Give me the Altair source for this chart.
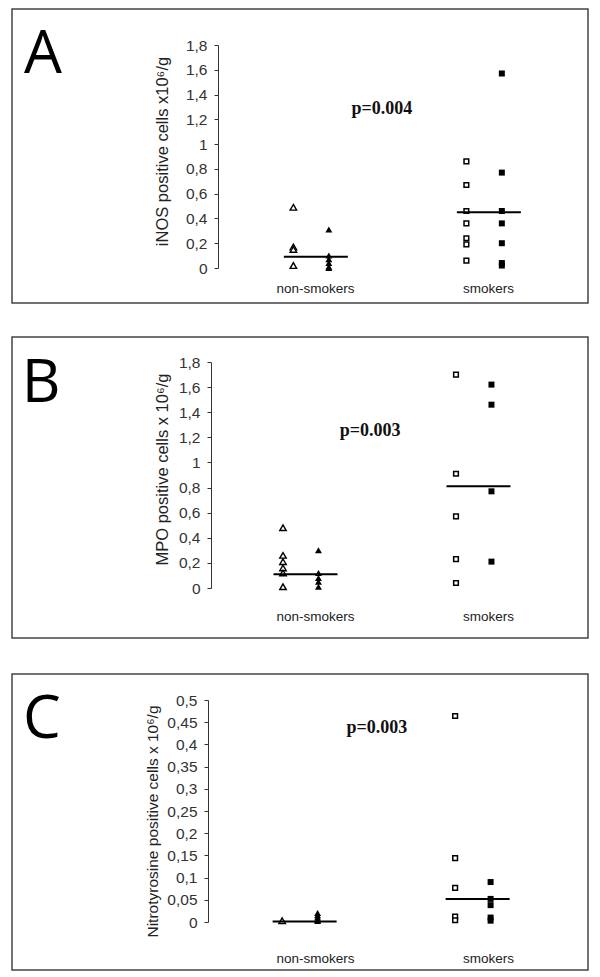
import altair as alt
import pandas as pd

# ---------------- data ----------------
groups = ["non-smokers", "smokers"]

# Panel A: iNOS positive cells x10^6/g
A_ns_open = [0.49, 0.17, 0.15, 0.02]
A_ns_filled = [0.31, 0.10, 0.07, 0.04, 0.01, 0.0]
A_s_open = [0.86, 0.67, 0.46, 0.36, 0.24, 0.19, 0.06]
A_s_filled = [1.57, 0.77, 0.46, 0.36, 0.20, 0.04, 0.02]
A_medians = [0.09, 0.45]
A_p = "p=0.004"

# Panel B: MPO positive cells x 10^6/g
B_ns_open = [0.48, 0.26, 0.21, 0.16, 0.12, 0.01]
B_ns_filled = [0.30, 0.12, 0.08, 0.05, 0.01]
B_s_open = [1.70, 0.91, 0.57, 0.23, 0.04]
B_s_filled = [1.62, 1.46, 0.77, 0.21]
B_medians = [0.11, 0.81]
B_p = "p=0.003"

# Panel C: Nitrotyrosine positive cells x 10^6/g
C_ns_open = [0.003]
C_ns_filled = [0.02, 0.015, 0.01, 0.005, 0.002]
C_s_open = [0.464, 0.144, 0.077, 0.012, 0.004]
C_s_filled = [0.09, 0.052, 0.038, 0.01, 0.003]
C_medians = [0.001, 0.052]
C_p = "p=0.003"

ticks_AB = [0, 0.2, 0.4, 0.6, 0.8, 1, 1.2, 1.4, 1.6, 1.8]
ticks_C = [0, 0.05, 0.1, 0.15, 0.2, 0.25, 0.3, 0.35, 0.4, 0.45, 0.5]

# ---------------- layout / style constants ----------------
PW = 360
XDOM = [0.4393, 2.5202]
OPEN_OFF, FILLED_OFF, HALF_LINE = -0.13, 0.075, 0.185
SANS = "Liberation Sans"
INK = "#222222"


def panel(letter, ns_open, ns_filled, s_open, s_filled, medians, ptext,
          ymax, yticks, title, axis_len, view_h, shift, axis_offset, title_x,
          title_y, xlab_pad, p_xy, frame, letter_xy, title_size):
    rows = []
    for vals, g, kind, off in [(ns_open, 0, "ns_open", OPEN_OFF),
                               (ns_filled, 0, "ns_filled", FILLED_OFF),
                               (s_open, 1, "s_open", OPEN_OFF),
                               (s_filled, 1, "s_filled", FILLED_OFF)]:
        for v in vals:
            rows.append({"v": v, "xp": g + 1 + shift + off, "kind": kind})
    df = pd.DataFrame(rows)
    med = pd.DataFrame({
        "v": medians,
        "x1": [g + 1 + shift - HALF_LINE for g in range(2)],
        "x2": [g + 1 + shift + HALF_LINE for g in range(2)],
    })
    pdf = pd.DataFrame({"t": [ptext], "xp": [p_xy[0]], "v": [p_xy[1]]})

    xscale = alt.Scale(domain=XDOM, nice=False, zero=False)
    yscale = alt.Scale(domain=[0, ymax], nice=False, zero=True,
                       range=[axis_len, 0])
    xaxis = alt.Axis(values=[1, 2],
                     labelExpr="datum.value == 1 ? 'non-smokers' : 'smokers'",
                     domain=False, ticks=False, tickSize=0, grid=False,
                     title=None, labelFont=SANS, labelFontSize=13.5,
                     labelColor=INK, labelPadding=xlab_pad,
                     labelFlush=False, labelOverlap=False)
    yaxis = alt.Axis(values=yticks, format="~g",
                     labelExpr="replace(datum.label, '.', ',')",
                     title=title, titleX=title_x, titleY=title_y,
                     titleAngle=270, titleAlign="center", titleBaseline="middle",
                     titleFont=SANS, titleFontSize=title_size,
                     titleFontWeight="normal",
                     titleColor=INK, labelFont=SANS, labelFontSize=15.5,
                     labelColor="#333333", tickSize=4, tickColor="#333333",
                     domainColor="#333333", grid=False, offset=axis_offset,
                     labelPadding=7, labelFlush=False, labelOverlap=False)

    base = alt.Chart(df).encode(
        x=alt.X("xp:Q", scale=xscale, axis=xaxis),
        y=alt.Y("v:Q", scale=yscale, axis=yaxis),
    )
    ns_o = base.transform_filter("datum.kind == 'ns_open'").mark_point(
        shape="triangle-up", size=42, filled=True, fill="white",
        stroke="black", strokeWidth=1.4, opacity=1)
    ns_f = base.transform_filter("datum.kind == 'ns_filled'").mark_point(
        shape="triangle-up", size=48, filled=True, color="black", opacity=1)
    s_o = base.transform_filter("datum.kind == 's_open'").mark_point(
        shape="square", size=22, filled=True, fill="white",
        stroke="black", strokeWidth=1.5, opacity=1)
    s_f = base.transform_filter("datum.kind == 's_filled'").mark_point(
        shape="square", size=36, filled=True, color="black", opacity=1)

    rules = alt.Chart(med).mark_rule(color="black", strokeWidth=2).encode(
        x=alt.X("x1:Q", scale=xscale, axis=xaxis),
        x2="x2:Q",
        y=alt.Y("v:Q", scale=yscale, axis=yaxis),
    )
    ptxt = alt.Chart(pdf).mark_text(
        font="Liberation Serif", fontWeight="bold", fontSize=18,
        color="#111111", align="center", baseline="middle").encode(
        x=alt.X("xp:Q", scale=xscale, axis=xaxis),
        y=alt.Y("v:Q", scale=yscale, axis=yaxis),
        text="t:N",
    )
    one = alt.Data(values=[{"k": 0}])
    box = alt.Chart(one).mark_rect(
        filled=False, stroke="#444444", strokeWidth=1.5).encode(
        x=alt.value(frame[0]), x2=alt.value(frame[1]),
        y=alt.value(frame[2]), y2=alt.value(frame[3]),
    )
    let = alt.Chart(one).mark_text(
        text=letter, font="Open Sans", fontSize=60, color="black",
        align="center", baseline="alphabetic").encode(
        x=alt.value(letter_xy[0]), y=alt.value(letter_xy[1]),
    )
    return alt.layer(box, let, ns_o, ns_f, s_o, s_f, rules, ptxt).properties(
        width=PW, height=view_h)


# A: axis 45..268 ; B: axis 362..588 ; C: axis 700..922 (page pixels)
pA = panel("A", A_ns_open, A_ns_filled, A_s_open, A_s_filled, A_medians, A_p,
           1.8, ticks_AB, "iNOS positive cells x10\u2076/g", 223, 223, 0.005, 0,
           -56, 106, 13, (1.387, 1.28), (-206, 370, -36, 258), (-175, 28), 16.5)
pB = panel("B", B_ns_open, B_ns_filled, B_s_open, B_s_filled, B_medians, B_p,
           1.8, ticks_AB, "MPO positive cells x 10\u2076/g", 226, 244, -0.055, 7,
           -49, 107, 3, (1.318, 1.25), (-206, 370, -25, 276), (-177, 40), 16.5)
pC = panel("C", C_ns_open, C_ns_filled, C_s_open, C_s_filled, C_medians, C_p,
           0.5, ticks_C, "Nitrotyrosine positive cells x 10\u2076/g", 222, 222, -0.06, 10,
           -56, 121, 29, (1.358, 0.437), (-206, 370, -26, 270), (-176, 38), 15.5)

chart = alt.vconcat(pA, pB, pC, spacing=94, bounds="flush").properties(
    padding={"left": 3, "top": 0, "right": 0, "bottom": 0},
    background="white",
).configure_view(stroke=None)

chart.save("out.html", embed_options={"renderer": "svg", "actions": False})
